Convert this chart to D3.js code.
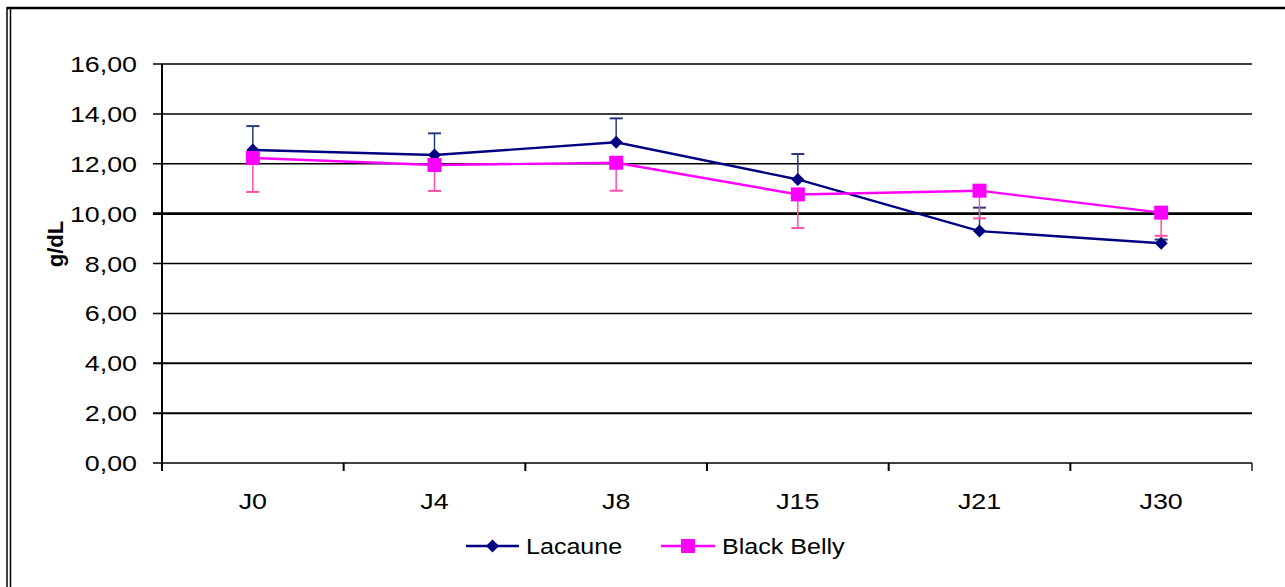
<!DOCTYPE html>
<html>
<head>
<meta charset="utf-8">
<script src="https://cdn.jsdelivr.net/npm/d3@7"></script>
<style>
  html, body { margin: 0; padding: 0; background: #fff; }
  svg { display: block; }
  text { font-family: "Liberation Sans", Arial, sans-serif; fill: #000; }
</style>
</head>
<body>
<svg id="chart" width="1285" height="587"></svg>
<script>
"use strict";

// data
const categories = ["J0", "J4", "J8", "J15", "J21", "J30"];
const lacaune = [12.55, 12.35, 12.86, 11.37, 9.30, 8.81];
const lacauneErr = [0.96, 0.87, 0.96, 1.02, 0.94, 0.15];
const blackBelly = [12.23, 11.95, 12.04, 10.77, 10.92, 10.04];
const blackBellyErr = [1.36, 1.04, 1.12, 1.35, 1.11, 0.93];
const yTicks = [0, 2, 4, 6, 8, 10, 12, 14, 16];

const series = [
    { name: "Lacaune", values: lacaune, err: lacaune.map((v, i) => v + lacauneErr[i]), color: "#000080", errColor: "#2a3a78", marker: "diamond" },
    { name: "Black Belly", values: blackBelly, err: blackBelly.map((v, i) => v - blackBellyErr[i]), color: "#ff00ff", errColor: "#ff4fa8", marker: "square" }
];

// layout
const plot = { left: 162, right: 1252, top: 64, bottom: 463 };
const stretch = 1.22;

const svg = d3.select("#chart");

// frame
svg.append("line").attr("x1", 7).attr("x2", 1285).attr("y1", 8).attr("y2", 8)
    .attr("stroke", "#000").attr("stroke-width", 2.5);
[7, 10.5].forEach(x => {
    svg.append("line").attr("x1", x).attr("x2", x).attr("y1", 7).attr("y2", 587)
        .attr("stroke", "#000").attr("stroke-width", 1.5);
});

// scales
let scaleX = d3.scaleBand()
    .domain(categories)
    .range([plot.left, plot.right]);
const cx = c => scaleX(c) + scaleX.bandwidth() / 2;

let scaleY = d3.scaleLinear()
    .domain([0, 16])
    .range([plot.bottom, plot.top]);

// text helper, horizontally widened like the source
function wideText(g, x, y, str, anchor, size, weight) {
    return g.append("text")
        .attr("transform", `translate(${x}, ${y}) scale(${stretch}, 1)`)
        .attr("text-anchor", anchor)
        .attr("font-size", size)
        .attr("font-weight", weight || "normal")
        .text(str);
}

// grid lines
let grid = svg.append("g").attr("class", "grid");
yTicks.forEach(t => {
    let w = t === 10 ? 2.6 : (t === 4 || t === 2 ? 2 : 1.5);
    if (t === 0) w = 1.3;
    grid.append("line")
        .attr("x1", plot.left - 9).attr("x2", plot.right)
        .attr("y1", scaleY(t)).attr("y2", scaleY(t))
        .attr("stroke", "#000").attr("stroke-width", w);
    wideText(grid, 137, scaleY(t) + 8, d3.format(".2f")(t).replace(".", ","), "end", "22px");
});

// y axis line
svg.append("line")
    .attr("x1", plot.left).attr("x2", plot.left)
    .attr("y1", plot.top).attr("y2", plot.bottom + 8)
    .attr("stroke", "#000").attr("stroke-width", 2);

// x ticks at band boundaries
let xAxis = svg.append("g").attr("class", "x_axis");
categories.concat(["_end"]).forEach((c, i) => {
    let x = i < categories.length ? scaleX(c) : plot.right;
    if (i === 0) return;
    xAxis.append("line")
        .attr("x1", x).attr("x2", x)
        .attr("y1", plot.bottom).attr("y2", plot.bottom + 8)
        .attr("stroke", "#000").attr("stroke-width", i === categories.length ? 1.3 : 2);
});
categories.forEach(c => {
    wideText(xAxis, cx(c), 509, c, "middle", "22px");
});

// y label
svg.append("text")
    .attr("transform", `translate(63, 244) rotate(-90)`)
    .attr("text-anchor", "middle")
    .attr("font-size", "22px")
    .attr("font-weight", "bold")
    .text("g/dL");

// markers
function drawMarker(g, type, x, y, color) {
    if (type === "diamond") {
        g.append("path")
            .attr("d", `M${x},${y - 6.5} L${x + 6.5},${y} L${x},${y + 6.5} L${x - 6.5},${y} Z`)
            .attr("fill", color);
    } else {
        g.append("rect")
            .attr("x", x - 7).attr("y", y - 7)
            .attr("width", 14).attr("height", 14)
            .attr("fill", color);
    }
}

// series
let line = d3.line()
    .x((d, i) => cx(categories[i]))
    .y(d => scaleY(d));

series.forEach(s => {
    let g = svg.append("g").attr("class", "series");
    // error bars
    s.values.forEach((v, i) => {
        let x = cx(categories[i]);
        g.append("line")
            .attr("x1", x).attr("x2", x)
            .attr("y1", scaleY(v)).attr("y2", scaleY(s.err[i]))
            .attr("stroke", s.errColor).attr("stroke-width", 1.5);
        g.append("line")
            .attr("x1", x - 6.5).attr("x2", x + 6.5)
            .attr("y1", scaleY(s.err[i])).attr("y2", scaleY(s.err[i]))
            .attr("stroke", s.errColor).attr("stroke-width", 2);
    });
    g.append("path")
        .datum(s.values)
        .attr("d", line)
        .attr("fill", "none")
        .attr("stroke", s.color)
        .attr("stroke-width", 2.4);
    s.values.forEach((v, i) => drawMarker(g, s.marker, cx(categories[i]), scaleY(v), s.color));
});

// legend
let legend = svg.append("g").attr("class", "legend");
const legendY = 546;
const legendItems = [
    { s: series[0], x1: 466, x2: 519, tx: 526 },
    { s: series[1], x1: 661, x2: 715, tx: 722 }
];
legendItems.forEach(it => {
    legend.append("line")
        .attr("x1", it.x1).attr("x2", it.x2)
        .attr("y1", legendY).attr("y2", legendY)
        .attr("stroke", it.s.color).attr("stroke-width", 2.4);
    drawMarker(legend, it.s.marker, (it.x1 + it.x2) / 2, legendY, it.s.color);
    legend.append("text")
        .attr("transform", `translate(${it.tx}, ${legendY + 8}) scale(1.14, 1)`)
        .attr("font-size", "22px")
        .text(it.s.name);
});
</script>
</body>
</html>
